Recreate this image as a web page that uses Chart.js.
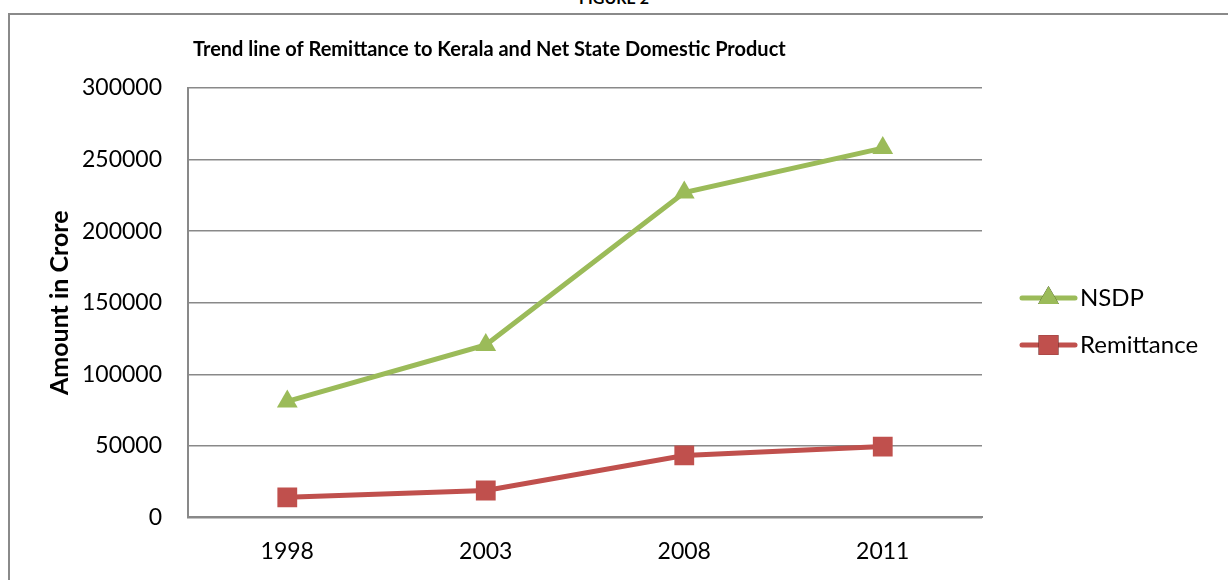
<!DOCTYPE html>
<html>
<head>
<meta charset="utf-8">
<script src="https://cdn.jsdelivr.net/npm/chart.js@4.4.1/dist/chart.umd.min.js"></script>
<style>
  html, body { margin: 0; padding: 0; background: #fff; overflow: hidden; }
  #wrap { position: relative; width: 1228px; height: 580px; }
  #fig { position: absolute; left: 0; width: 1228px; top: -12px; text-align: center;
         font: bold 16px Lato, "DejaVu Sans", sans-serif; color: #000; }
  #frame { position: absolute; left: 8px; top: 13px; width: 1240px; height: 600px;
           border-left: 2px solid #8a8a8a; border-top: 2px solid #8a8a8a; box-sizing: border-box; }
  #c { position: absolute; left: 0; top: 0; }
</style>
</head>
<body>
<div id="wrap">
  <div id="fig">FIGURE 2</div>
  <div id="frame"></div>
  <canvas id="c" width="1228" height="580"></canvas>
</div>
<script>
// dados (crore)
var anos = ["1998", "2003", "2008", "2011"];
var nsdp = [81000, 120500, 227000, 258000];
var remessa = [14000, 18800, 43300, 49500];
var yTicks = [0, 50000, 100000, 150000, 200000, 250000, 300000];
var tituloTxt = "Trend line of Remittance to Kerala and Net State Domestic Product";
var eixoYTxt = "Amount in Crore";

var VERDE = "#9bbb59", VERMELHO = "#c0504d";
var FONTE = "Lato, 'DejaVu Sans', sans-serif";

// título, rótulo do eixo Y e legenda desenhados à mão (posição livre como no Excel)
var extras = {
  id: "extras",
  afterDraw: function (c) {
    var ctx = c.ctx, area = c.chartArea;
    ctx.save();
    ctx.fillStyle = "#000";
    ctx.font = "bold 20px " + FONTE;
    ctx.textBaseline = "middle";
    ctx.textAlign = "left";
    ctx.fillText(tituloTxt, 193, 50);

    ctx.save();
    ctx.translate(60, (area.top + area.bottom) / 2);
    ctx.rotate(-Math.PI / 2);
    ctx.textAlign = "center";
    ctx.font = "bold 25px " + FONTE;
    ctx.fillText(eixoYTxt, 0, 0);
    ctx.restore();

    var y0 = 298, passo = 47, x0 = 1022, x1 = 1075;
    ctx.textAlign = "left";
    c.data.datasets.forEach(function (ds, i) {
      var y = y0 + i * passo;
      ctx.strokeStyle = ds.borderColor; ctx.lineWidth = ds.borderWidth; ctx.lineCap = "round";
      ctx.beginPath(); ctx.moveTo(x0, y); ctx.lineTo(x1, y); ctx.stroke();
      Chart.helpers.drawPoint(ctx, { pointStyle: ds.pointStyle, radius: ds.pointRadius, rotation: 0, borderWidth: 0 },
        (x0 + x1) / 2, y);
      ctx.fillStyle = ds.backgroundColor; ctx.fill();
      ctx.fillStyle = "#000";
      ctx.font = "24px " + FONTE;
      ctx.fillText(ds.label, x1 + 5, y);
    });
    ctx.restore();
  }
};

new Chart(document.getElementById("c"), {
  type: "line",
  data: {
    labels: anos,
    datasets: [
      { label: "NSDP", data: nsdp, borderColor: VERDE, backgroundColor: VERDE, borderWidth: 5,
        pointStyle: "triangle", pointRadius: 12, pointBorderWidth: 0, tension: 0 },
      { label: "Remittance", data: remessa, borderColor: VERMELHO, backgroundColor: VERMELHO, borderWidth: 5,
        pointStyle: "rect", pointRadius: 14, pointBorderWidth: 0, tension: 0 }
    ]
  },
  plugins: [extras],
  options: {
    responsive: false, animation: false,
    layout: { padding: { top: 88, left: 56, right: 246, bottom: -5 } },
    scales: {
      x: {
        offset: true,
        grid: { display: false, drawTicks: false },
        border: { display: true, color: "#898989", width: 2 },
        ticks: { color: "#000", font: { family: FONTE, size: 23 }, padding: 20 }
      },
      y: {
        min: 0, max: 300000,
        afterBuildTicks: function (ax) { ax.ticks = yTicks.map(function (v) { return { value: v }; }); },
        grid: { color: "#898989", lineWidth: 1.5, drawTicks: false },
        border: { display: true, color: "#898989", width: 2 },
        ticks: { color: "#000", font: { family: FONTE, size: 23 }, padding: 26,
                 callback: function (v) { return String(v); } }
      }
    },
    plugins: { legend: { display: false }, tooltip: { enabled: false } }
  }
});
</script>
</body>
</html>
